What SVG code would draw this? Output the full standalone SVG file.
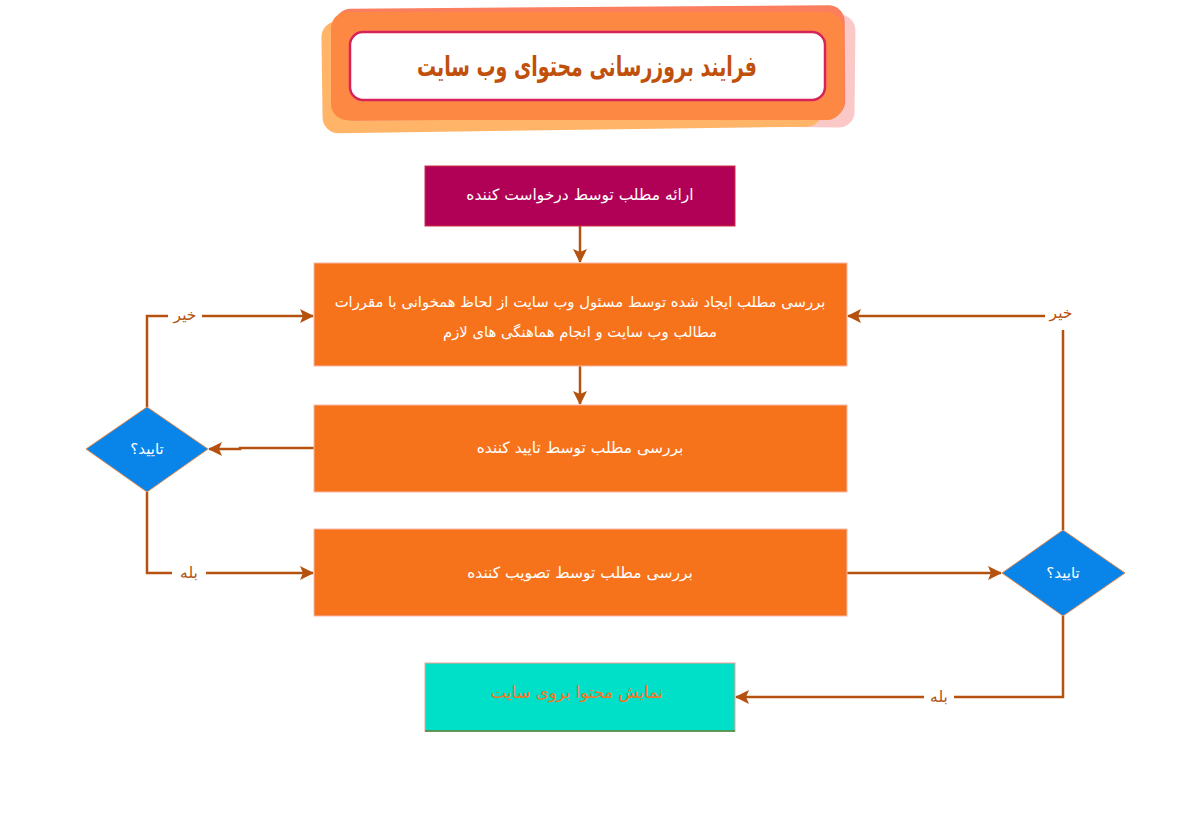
<svg xmlns="http://www.w3.org/2000/svg" width="1178" height="839" viewBox="0 0 1178 839">
<style>
.t{font-family:"DejaVu Sans","Noto Sans",sans-serif;font-size:15.5px;fill:#ffffff;text-anchor:middle;dominant-baseline:central}
.lbl{font-family:"DejaVu Sans","Noto Sans",sans-serif;font-size:15.5px;fill:#b5520f;text-anchor:middle;dominant-baseline:central}
.box{fill:#f6731c;stroke:#f7b8a8;stroke-width:1}
.dia{fill:#0984e8;stroke:#e08a50;stroke-width:1}
.con{fill:none;stroke:#b5520f;stroke-width:2.5}
</style>
<defs>
<marker id="ah" viewBox="0 0 14 14" refX="13" refY="7" markerWidth="14" markerHeight="14" markerUnits="userSpaceOnUse" orient="auto">
<path d="M0,0 L14,7 L0,14 L3,7 Z" fill="#b5520f"/>
</marker>
</defs>
<rect width="1178" height="839" fill="#ffffff"/>
<g id="title">
<rect x="345" y="12" width="510" height="113" rx="16" fill="#fbc8c8" transform="rotate(0.6 600 68)"/>
<rect x="322" y="18" width="500" height="112" rx="16" fill="#ffb468" transform="rotate(-0.8 570 74)"/>
<rect x="335" y="7" width="510" height="112" rx="16" fill="#fb7e5e" transform="rotate(-0.4 590 63)"/>
<rect x="331" y="12" width="512" height="108" rx="16" fill="#fd8844"/>
<rect x="350" y="32" width="475" height="68" rx="13" fill="#ffffff" stroke="#d6245a" stroke-width="2.5"/>
<text x="587" y="66" font-family="'DejaVu Sans',sans-serif" font-size="28" font-weight="bold" fill="#c0500a" text-anchor="middle" dominant-baseline="central" textLength="340" lengthAdjust="spacingAndGlyphs">فرایند بروزرسانی محتوای وب سایت</text>
</g>
<g id="connectors">
<line class="con" x1="580" y1="226" x2="580" y2="262" marker-end="url(#ah)"/>
<line class="con" x1="580" y1="366" x2="580" y2="404" marker-end="url(#ah)"/>
<polyline class="con" points="314,448 240,448 240,449 209,449" marker-end="url(#ah)"/>
<polyline class="con" points="147,407 147,316 313,316" marker-end="url(#ah)"/>
<polyline class="con" points="147,492 147,573 313,573" marker-end="url(#ah)"/>
<line class="con" x1="847" y1="573" x2="1001" y2="573" marker-end="url(#ah)"/>
<polyline class="con" points="1063,530 1063,316 848,316" marker-end="url(#ah)"/>
<polyline class="con" points="1063,616 1063,697 736,697" marker-end="url(#ah)"/>
<rect x="168" y="304" width="34" height="24" fill="#ffffff"/>
<text class="lbl" x="185" y="315">خیر</text>
<rect x="172" y="562" width="34" height="22" fill="#ffffff"/>
<text class="lbl" x="189" y="573">بله</text>
<rect x="1045" y="302" width="34" height="28" fill="#ffffff"/>
<text class="lbl" x="1061" y="313">خیر</text>
<rect x="924" y="686" width="30" height="22" fill="#ffffff"/>
<text class="lbl" x="939" y="697">بله</text>
</g>
<g id="n1">
<rect x="425" y="166" width="310" height="60" fill="#b10156" stroke="#d03040" stroke-width="1"/>
<text class="t" x="580" y="195">ارائه مطلب توسط درخواست کننده</text>
</g>
<g id="n2">
<rect class="box" x="314" y="263" width="533" height="103"/>
<text class="t" x="580" y="301" style="font-size:14.8px">بررسی مطلب ایجاد شده توسط مسئول وب سایت از لحاظ همخوانی با مقررات</text>
<text class="t" x="580" y="331" style="font-size:14.8px">مطالب وب سایت و انجام هماهنگی های لازم</text>
</g>
<g id="n3">
<rect class="box" x="314" y="405" width="533" height="87"/>
<text class="t" x="580" y="448">بررسی مطلب توسط تایید کننده</text>
</g>
<g id="n4">
<rect class="box" x="314" y="529" width="533" height="87"/>
<text class="t" x="580" y="573">بررسی مطلب توسط تصویب کننده</text>
</g>
<g id="n5">
<rect x="425" y="663" width="310" height="68" fill="#00e0c8" stroke="#f4a090" stroke-width="1"/>
<line x1="425" y1="731" x2="735" y2="731" stroke="#3a8a3a" stroke-width="1.5"/>
<text class="t" x="577" y="692" style="fill:#f6731c;font-size:16.5px">نمایش محتوا بروی سایت</text>
</g>
<g id="d1">
<polygon class="dia" points="147,407 208,449 147,492 86,449"/>
<text class="t" x="147" y="449" style="font-size:15px">تایید؟</text>
</g>
<g id="d2">
<polygon class="dia" points="1063,530 1125,573 1063,616 1002,573"/>
<text class="t" x="1063" y="573" style="font-size:15px">تایید؟</text>
</g>
</svg>
